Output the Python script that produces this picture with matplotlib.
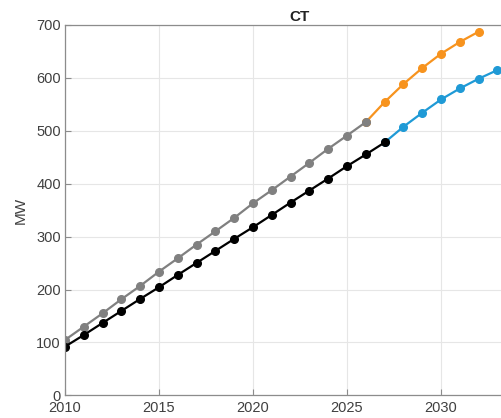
import matplotlib.pyplot as plt

plt.rcParams['font.family'] = ['Liberation Sans', 'DejaVu Sans']

# historical / projected capacity, MW
years_hist_gray = list(range(2010, 2027))
gray_vals = [104.6, 129.8, 155.0, 181.6, 206.8, 233.8, 259.0, 285.0, 310.0, 335.4,
             363.0, 387.8, 413.6, 439.5, 466.0, 491.0, 516.4]
years_orange = list(range(2026, 2033))
orange_vals = [516.4, 554.3, 588.3, 618.6, 645.7, 667.9, 687.3]

years_hist_black = list(range(2010, 2028))
black_vals = [92.0, 114.0, 136.8, 159.5, 182.2, 204.3, 227.6, 250.3, 273.0, 295.7,
              317.8, 341.0, 364.4, 387.1, 409.8, 433.2, 455.2, 477.9]
years_blue = list(range(2027, 2034))
blue_vals = [477.9, 507.6, 534.0, 559.2, 580.0, 598.4, 614.8]

fig = plt.figure(figsize=(5.02, 4.18), dpi=100)
ax = fig.add_axes([65 / 502, 22.7 / 418, 470 / 502, 370.3 / 418])

style = dict(marker='o', markersize=5.5, linewidth=1.6)
ax.plot(years_orange, orange_vals, color='#F7931E', **style)
ax.plot(years_blue, blue_vals, color='#1F9AD6', **style)
ax.plot(years_hist_gray, gray_vals, color='#808080', **style)
ax.plot(years_hist_black, black_vals, color='black', **style)

ax.set_xlim(2010, 2035)
ax.set_ylim(0, 700)
ax.set_xticks([2010, 2015, 2020, 2025, 2030])
ax.set_yticks(range(0, 701, 100))
ax.grid(True, color='#e6e6e6', linewidth=0.8)
ax.set_axisbelow(True)

for s in ax.spines.values():
    s.set_color('#8c8c8c')
    s.set_linewidth(0.9)
ax.tick_params(direction='in', length=4, color='#8c8c8c', labelsize=10.5,
               labelcolor='#404040')
ax.tick_params(axis='x', pad=4)
ax.tick_params(axis='y', pad=3)
ax.set_ylabel('MW', fontsize=11, color='#404040', labelpad=6)
ax.set_title('CT', fontsize=11, fontweight='bold', color='#222222', pad=3)

fig.savefig('out.png', dpi=100)
